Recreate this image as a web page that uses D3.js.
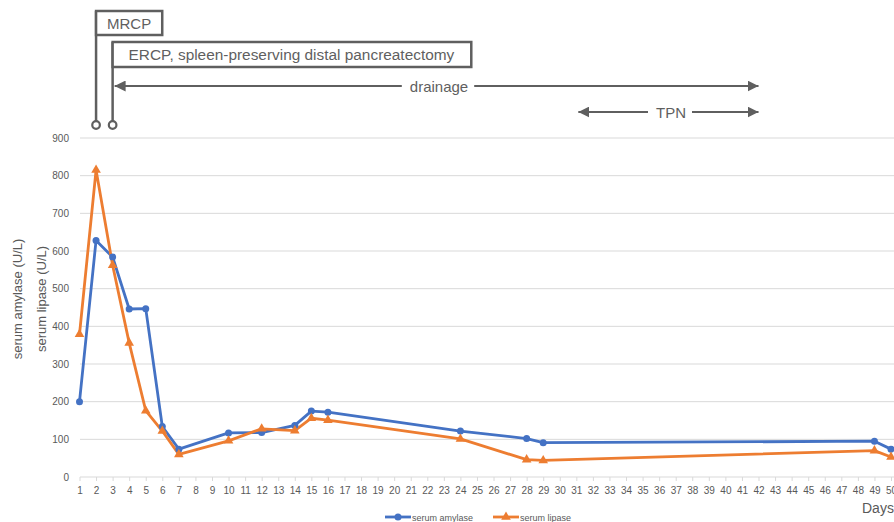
<!DOCTYPE html>
<html><head><meta charset="utf-8">
<script src="https://cdn.jsdelivr.net/npm/d3@7"></script>
<style>body{margin:0;background:#fff;overflow:hidden}svg{display:block;font-family:"Liberation Sans",Arial,sans-serif}</style>
</head><body>
<svg id="c" width="894" height="522"></svg>
<script>
const dayTicks = d3.range(1, 51);
const yTicks = [0,100,200,300,400,500,600,700,800,900];
const days = [1,2,3,4,5,6,7,10,12,14,15,16,24,28,29,49,50];
const amylase = [200,628,584,446,447,134,74,117,118,137,175,172,122,102,91,95,74];
const lipase = [379,815,562,356,176,122,60,96,128,123,156,151,101,46,44,70,53];
const eventLabels = ["MRCP","ERCP, spleen-preserving distal pancreatectomy"];
const eventDays = [2,3];
const periodLabels = ["drainage","TPN"];
const periodStart = [3,31];
const periodEnd = [42,42];

const svg = d3.select("#c");
const x = d3.scaleLinear().domain([1,50]).range([79.5,891]);
const y = d3.scaleLinear().domain([0,900]).range([477,138]);
const grey = "#595959";

// gridlines
svg.append("g").selectAll("line").data(yTicks.filter(d=>d>0)).join("line")
  .attr("x1",80).attr("x2",900).attr("y1",d=>y(d)).attr("y2",d=>y(d))
  .attr("stroke","#d9d9d9").attr("stroke-width",1);

// y axis labels
const ya = svg.append("g").attr("transform","translate(69,0)")
  .call(d3.axisLeft(y).tickValues(yTicks).tickSize(0).tickPadding(0));
ya.select(".domain").remove();
ya.selectAll("text").attr("fill",grey).style("font-size","10px").style("font-family","Liberation Sans, Arial, sans-serif");

// x axis
const xa = svg.append("g").attr("transform",`translate(0,${y(0)})`)
  .call(d3.axisBottom(x).tickValues(dayTicks).tickFormat(d3.format("d")).tickSize(4).tickPadding(6));
xa.select(".domain").attr("d","M80,0H900").attr("stroke","#d9d9d9");
xa.selectAll(".tick line").attr("stroke","#d9d9d9");
xa.selectAll("text").attr("fill",grey).style("font-size","10px").style("font-family","Liberation Sans, Arial, sans-serif");

// y titles
svg.append("text").attr("transform","translate(22,299) rotate(-90)").attr("text-anchor","middle")
  .attr("fill",grey).style("font-size","13px").text("serum amylase (U/L)");
svg.append("text").attr("transform","translate(46,299) rotate(-90)").attr("text-anchor","middle")
  .attr("fill",grey).style("font-size","13px").text("serum lipase (U/L)");
svg.append("text").attr("x",862).attr("y",513).attr("fill",grey).style("font-size","14px").text("Days");

const line = d3.line().x(d=>x(d[0])).y(d=>y(d[1]));
const blue = "#4472C4", orange = "#ED7D31";
const aPts = days.map((d,i)=>[d,amylase[i]]);
const lPts = days.map((d,i)=>[d,lipase[i]]);
const tri = d3.symbol().type(d3.symbolTriangle).size(40);

svg.append("path").datum(aPts).attr("d",line).attr("fill","none").attr("stroke",blue).attr("stroke-width",2.8).attr("stroke-linejoin","round");
svg.append("path").datum(lPts).attr("d",line).attr("fill","none").attr("stroke",orange).attr("stroke-width",2.8).attr("stroke-linejoin","round");
svg.append("g").selectAll("circle").data(aPts).join("circle").attr("cx",d=>x(d[0])).attr("cy",d=>y(d[1])).attr("r",3.5).attr("fill",blue);
svg.append("g").selectAll("path").data(lPts).join("path").attr("d",tri).attr("transform",d=>`translate(${x(d[0])},${y(d[1])})`).attr("fill",orange);

// legend
const lg = svg.append("g").attr("transform","translate(0,517)");
lg.append("line").attr("x1",385).attr("x2",411).attr("stroke",blue).attr("stroke-width",2.8);
lg.append("circle").attr("cx",398).attr("r",3.5).attr("fill",blue);
lg.append("text").attr("x",412).attr("y",3.5).attr("fill",grey).style("font-size","9px").text("serum amylase");
lg.append("line").attr("x1",493).attr("x2",519).attr("stroke",orange).attr("stroke-width",2.8);
lg.append("path").attr("d",tri).attr("transform","translate(506,0)").attr("fill",orange);
lg.append("text").attr("x",520).attr("y",3.5).attr("fill",grey).style("font-size","9px").text("serum lipase");

// annotations
const ag = "#5f5f5f";
svg.append("defs").append("marker").attr("id","ah").attr("viewBox","0 0 10 10").attr("refX",10).attr("refY",5)
  .attr("markerWidth",5).attr("markerHeight",5).attr("markerUnits","strokeWidth").attr("orient","auto-start-reverse")
  .append("path").attr("d","M0,0L10,5L0,10z").attr("fill",ag);

const boxTop = [11,42], boxH = [24,25], textSize = [15,15.4], padL = [11,16], padR = [11,17];
eventLabels.forEach((lab,i)=>{
  const ex = x(eventDays[i]);
  const g = svg.append("g");
  g.append("line").attr("x1",ex).attr("x2",ex).attr("y1",boxTop[i]).attr("y2",121).attr("stroke",ag).attr("stroke-width",2.5);
  g.append("circle").attr("cx",ex).attr("cy",125).attr("r",3.8).attr("fill","#fff").attr("stroke",ag).attr("stroke-width",2.2);
  const t = g.append("text").attr("x",ex+padL[i]).attr("y",boxTop[i]+boxH[i]/2+5.5).attr("fill",ag).style("font-size",textSize[i]+"px").text(lab);
  const w = t.node().getComputedTextLength();
  g.insert("rect","text").attr("x",ex).attr("y",boxTop[i]).attr("width",w+padL[i]+padR[i]).attr("height",boxH[i]).attr("fill","#fff").attr("stroke",ag).attr("stroke-width",2.5);
});

const pY = [86,112];
periodLabels.forEach((lab,i)=>{
  const x0 = x(periodStart[i])+2, x1 = x(periodEnd[i]);
  const t = svg.append("text").attr("y",pY[i]+5.5).attr("fill",ag).style("font-size","15px").text(lab);
  const w = t.node().getComputedTextLength();
  const mid = i===0 ? 439 : 671;
  t.attr("x",mid).attr("text-anchor","middle");
  svg.append("line").attr("x1",mid-w/2-8).attr("x2",x0).attr("y1",pY[i]).attr("y2",pY[i]).attr("stroke",ag).attr("stroke-width",2.2).attr("marker-end","url(#ah)");
  svg.append("line").attr("x1",mid+w/2+6).attr("x2",x1).attr("y1",pY[i]).attr("y2",pY[i]).attr("stroke",ag).attr("stroke-width",2.2).attr("marker-end","url(#ah)");
});
</script>
</body></html>
